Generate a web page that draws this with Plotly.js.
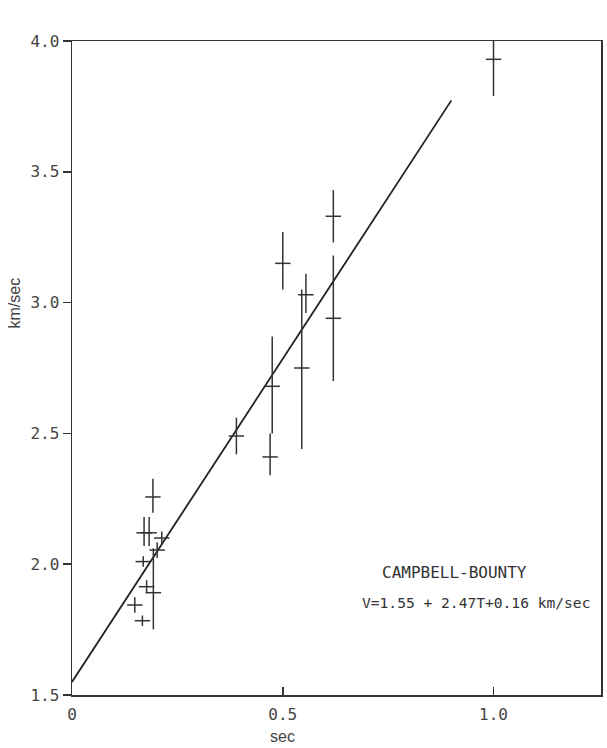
<!DOCTYPE html>
<html>
<head>
<meta charset="utf-8">
<script src="https://cdn.plot.ly/plotly-3.0.1.min.js"></script>
<style>html,body{margin:0;padding:0;background:#fff;}</style>
</head>
<body>
<div id="chart" style="width:607px;height:748px;"></div>
<script>
// Travel time T (sec) and interval velocity V (km/sec)
const T = [1.0, 0.62, 0.62, 0.50, 0.555, 0.545, 0.475, 0.47, 0.39, 0.192, 0.171, 0.183, 0.213, 0.202, 0.169, 0.193, 0.177, 0.149, 0.167];
const V = [3.93, 3.33, 2.94, 3.15, 3.03, 2.75, 2.68, 2.41, 2.49, 2.257, 2.12, 2.12, 2.10, 2.054, 2.01, 1.891, 1.914, 1.844, 1.784];
const errPlus  = [0.19, 0.10, 0.24, 0.12, 0.08, 0.30, 0.19, 0.09, 0.07, 0.07, 0.06, 0.06, 0.025, 0.03, 0.02, 0.17, 0.025, 0.03, 0.02];
const errMinus = [0.14, 0.10, 0.24, 0.10, 0.07, 0.31, 0.18, 0.07, 0.07, 0.06, 0.05, 0.05, 0.025, 0.03, 0.02, 0.14, 0.025, 0.03, 0.02];

// Regression line V = 1.55 + 2.47T
const fitT = [0, 0.9];
const fitV = [1.55, 3.773];

const xTicks = [0, 0.5, 1.0];
const xTickText = ['0', '0.5', '1.0'];
const yTicks = [1.5, 2.0, 2.5, 3.0, 3.5, 4.0];
const yTickText = ['1.5', '2.0', '2.5', '3.0', '3.5', '4.0'];

const ink = '#333';
const mono = '"DejaVu Sans Mono", "Liberation Mono", monospace';
const narrow = '"Liberation Sans Narrow", "Liberation Sans", Arial, sans-serif';

const traces = [
  {
    x: fitT, y: fitV, mode: 'lines', type: 'scatter',
    line: {color: '#222', width: 1.8}, hoverinfo: 'skip', showlegend: false
  },
  {
    x: T, y: V, mode: 'markers', type: 'scatter', cliponaxis: false,
    marker: {symbol: 'line-ew', size: 11, line: {color: ink, width: 1.5}},
    error_y: {type: 'data', symmetric: false, array: errPlus, arrayminus: errMinus,
              thickness: 1.5, width: 0, color: ink},
    showlegend: false
  }
];

const layout = {
  width: 607, height: 748,
  margin: {l: 72, r: 6, t: 41, b: 53},
  paper_bgcolor: '#fff', plot_bgcolor: '#fff',
  showlegend: false,
  xaxis: {
    range: [0, 1.255], tickvals: xTicks, ticktext: xTickText,
    ticks: 'inside', ticklen: 8, tickwidth: 1.5, tickcolor: ink,
    showgrid: false, zeroline: false,
    showline: true, mirror: true, linecolor: ink, linewidth: 1.5,
    tickfont: {family: mono, size: 16, color: '#444'},
    ticklabelstandoff: 4
  },
  yaxis: {
    range: [1.5, 4.0], tickvals: yTicks, ticktext: yTickText,
    ticks: 'outside', ticklen: 8, tickwidth: 1.5, tickcolor: ink,
    showgrid: false, zeroline: false,
    showline: true, mirror: true, linecolor: ink, linewidth: 1.5,
    tickfont: {family: mono, size: 16, color: '#444'}
  },
  annotations: [
    {xref: 'paper', yref: 'paper', x: -0.108, y: 0.6, xanchor: 'center', yanchor: 'middle',
     text: 'km/sec', textangle: -90,
     showarrow: false, font: {family: narrow, size: 16, color: '#444'}},
    {xref: 'x', yref: 'paper', x: 0.5, y: -0.0635, yanchor: 'middle', xanchor: 'center', text: 'sec',
     showarrow: false, font: {family: narrow, size: 16, color: '#444'}},
    {xref: 'x', yref: 'y', x: 1.083, y: 1.97, xanchor: 'right', yanchor: 'middle',
     text: 'CAMPBELL-BOUNTY', showarrow: false, font: {family: mono, size: 16, color: '#333'}},
    {xref: 'x', yref: 'y', x: 1.234, y: 1.852, xanchor: 'right', yanchor: 'middle',
     text: 'V=1.55 + 2.47T+0.16 km/sec', showarrow: false, font: {family: mono, size: 14.6, color: '#333'}}
  ]
};

Plotly.newPlot('chart', traces, layout, {staticPlot: true, displayModeBar: false});
</script>
</body>
</html>
